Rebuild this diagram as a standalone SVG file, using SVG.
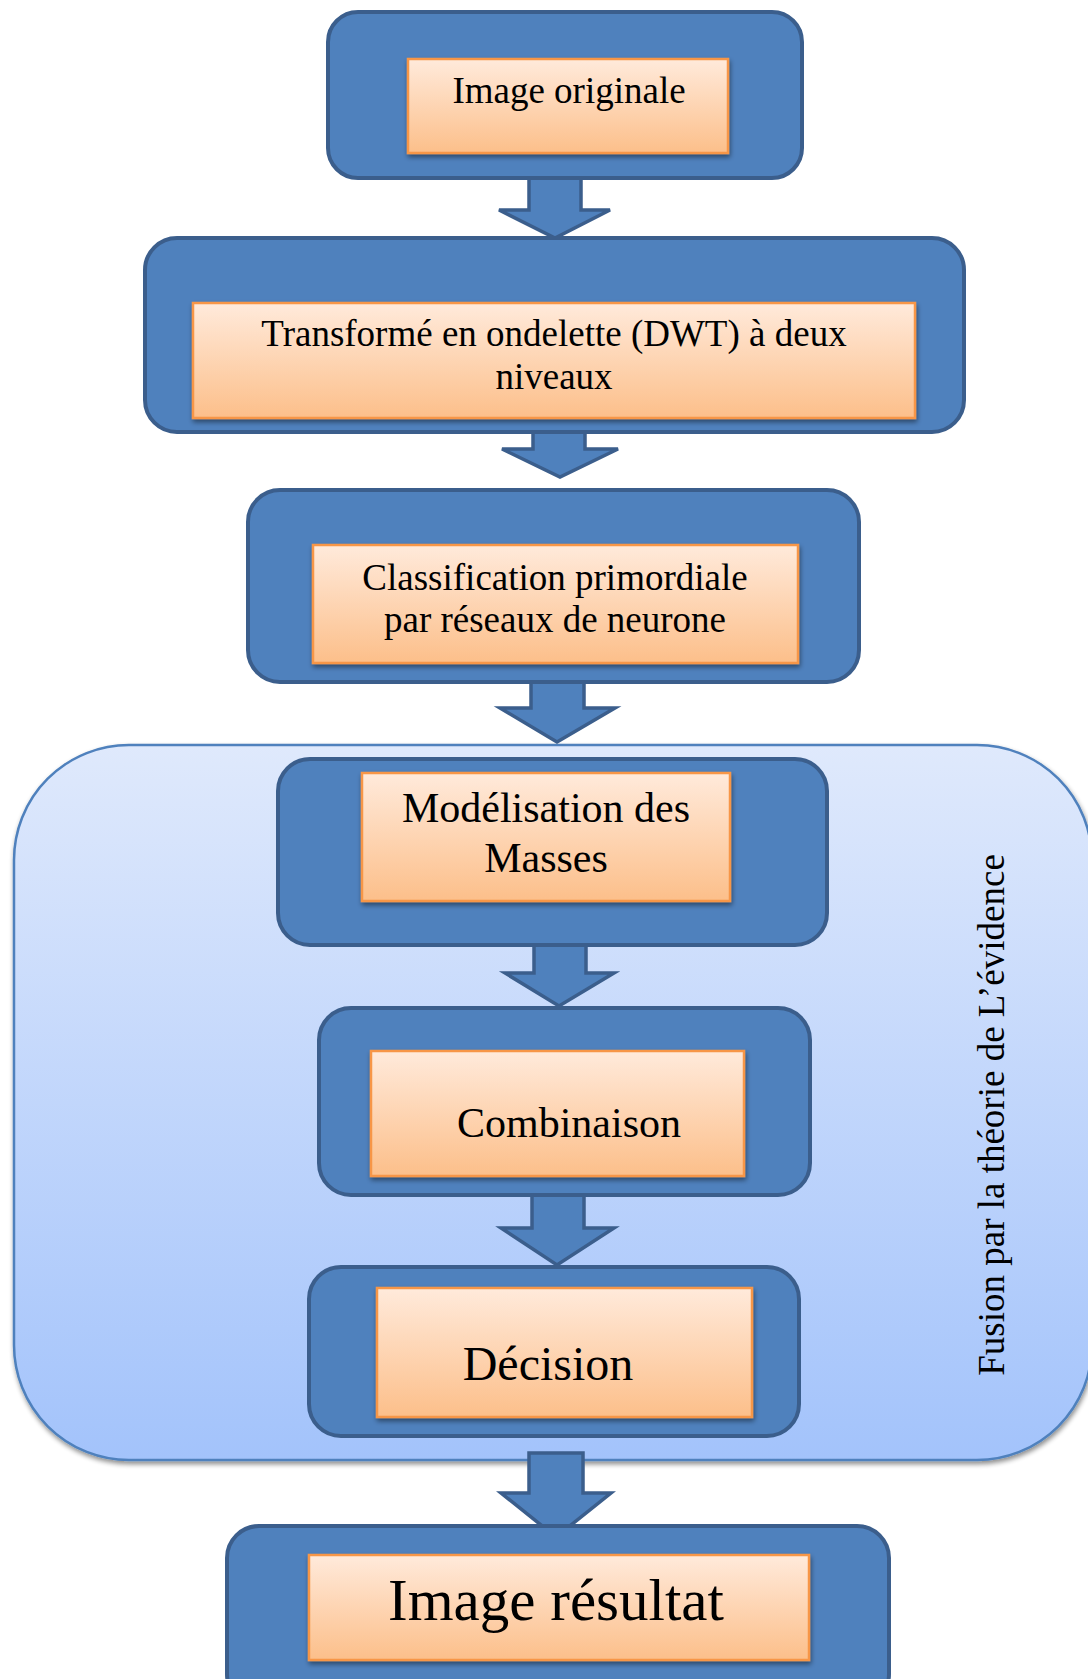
<svg xmlns="http://www.w3.org/2000/svg" width="1088" height="1679" viewBox="0 0 1088 1679">
<defs>
<linearGradient id="og" x1="0" y1="0" x2="0" y2="1">
<stop offset="0" stop-color="#ffeadb"/>
<stop offset="1" stop-color="#fcbf8a"/>
</linearGradient>
<linearGradient id="bg" x1="0" y1="0" x2="0" y2="1">
<stop offset="0" stop-color="#dfe9fc"/>
<stop offset="1" stop-color="#a3c3fb"/>
</linearGradient>
<filter id="sh" x="-10%" y="-10%" width="120%" height="130%">
<feGaussianBlur in="SourceAlpha" stdDeviation="2.5"/>
<feOffset dx="1" dy="3" result="b"/>
<feComponentTransfer><feFuncA type="linear" slope="0.45"/></feComponentTransfer>
<feMerge><feMergeNode/><feMergeNode in="SourceGraphic"/></feMerge>
</filter>
</defs>
<style>
.box{fill:#4f81bd;stroke:#3b5e8c;stroke-width:4}
.in{fill:url(#og);stroke:#f79646;stroke-width:2.5;filter:url(#sh)}
.arr{fill:#4f81bd;stroke:#3b5e8c;stroke-width:3.5;stroke-linejoin:miter}
.t{font-family:"Liberation Serif","Times New Roman",serif;fill:#000;text-anchor:middle}
</style>
<rect width="1088" height="1679" fill="#ffffff"/>
<g id="fusion">
<rect x="14" y="745" width="1078" height="715" rx="115" fill="url(#bg)" stroke="#4f81bd" stroke-width="2.5" filter="url(#sh)"/>
<text class="t" font-size="37" transform="translate(1004,1115) rotate(-90)">Fusion par la théorie de L’évidence</text>
</g>
<g id="connectors">
<path class="arr" d="M529,170 L529,210 L499,210 L555,238 L610,210 L581,210 L581,170 Z"/>
<path class="arr" d="M533,425 L533,449 L502,449 L560,477 L618,449 L585,449 L585,425 Z"/>
<path class="arr" d="M531,675 L531,708 L500,708 L557,742 L615,708 L584,708 L584,675 Z"/>
<path class="arr" d="M534,938 L534,973 L505,973 L559,1006 L614,973 L586,973 L586,938 Z"/>
<path class="arr" d="M532,1190 L532,1228 L501,1228 L557,1265 L614,1228 L584,1228 L584,1190 Z"/>
</g>
<g id="n1">
<rect class="box" x="328" y="12" width="474" height="166" rx="30"/>
<rect class="in" x="408" y="59" width="320" height="94"/>
<text class="t" x="569" y="103" font-size="37">Image originale</text>
</g>
<g id="n2">
<rect class="box" x="145" y="238" width="819" height="194" rx="32"/>
<rect class="in" x="193" y="303" width="722" height="115"/>
<text class="t" x="554" y="346" font-size="37">Transformé en ondelette (DWT) à deux</text>
<text class="t" x="554" y="389" font-size="37">niveaux</text>
</g>
<g id="n3">
<rect class="box" x="248" y="490" width="611" height="192" rx="32"/>
<rect class="in" x="313" y="545" width="485" height="118"/>
<text class="t" x="555" y="590" font-size="37">Classification primordiale</text>
<text class="t" x="555" y="632" font-size="37">par réseaux de neurone</text>
</g>
<g id="n4">
<rect class="box" x="278" y="759" width="549" height="186" rx="32"/>
<rect class="in" x="362" y="773" width="368" height="128"/>
<text class="t" x="546" y="822" font-size="42">Modélisation des</text>
<text class="t" x="546" y="872" font-size="42">Masses</text>
</g>
<g id="n5">
<rect class="box" x="319" y="1008" width="491" height="187" rx="32"/>
<rect class="in" x="371" y="1051" width="373" height="125"/>
<text class="t" x="569" y="1137" font-size="42">Combinaison</text>
</g>
<g id="n6">
<rect class="box" x="309" y="1267" width="490" height="169" rx="32"/>
<rect class="in" x="377" y="1288" width="375" height="129"/>
<text class="t" x="548" y="1380" font-size="48">Décision</text>
</g>
<g id="connectors2">
<path class="arr" d="M529,1453 L529,1493 L501,1493 L556,1537 L611,1493 L583,1493 L583,1453 Z"/>
</g>
<g id="n7">
<rect class="box" x="227" y="1526" width="662" height="180" rx="32"/>
<rect class="in" x="309" y="1555" width="500" height="105"/>
<text class="t" x="556" y="1620" font-size="59">Image résultat</text>
</g>
</svg>
